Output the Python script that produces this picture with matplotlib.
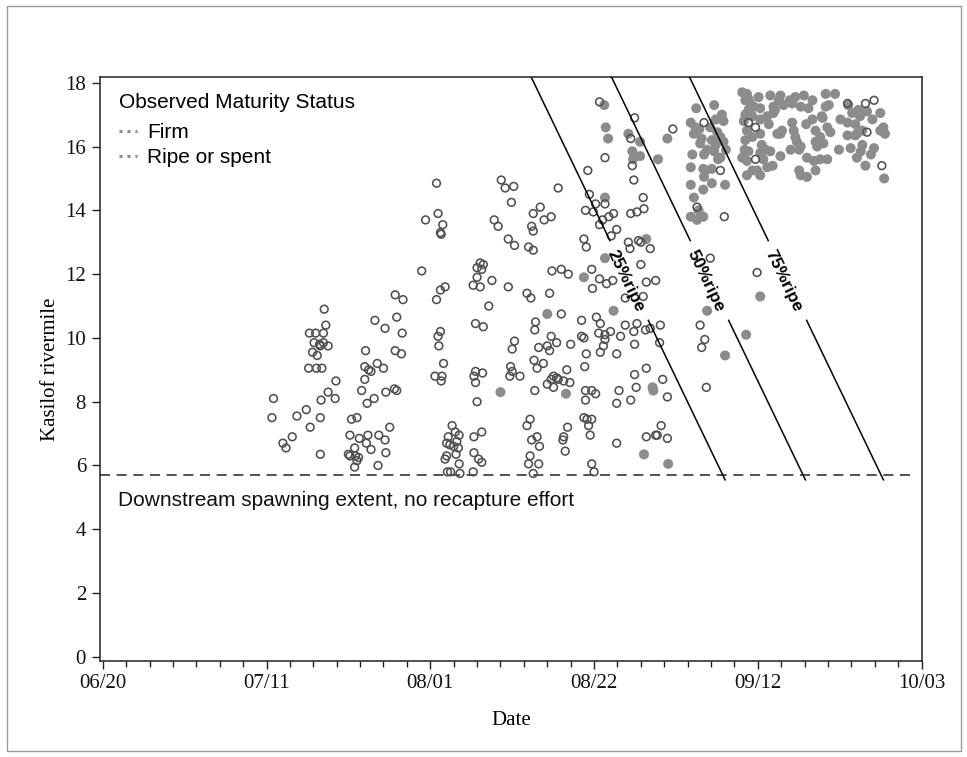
import matplotlib
matplotlib.use("Agg")
import matplotlib.pyplot as plt
from matplotlib.lines import Line2D
from matplotlib.patches import Rectangle
from matplotlib.ticker import FixedLocator, MultipleLocator
import numpy as np

# ---------------- data (x = days after 06/20, y = Kasilof rivermile) -------------
x_tick_days = [0, 21, 42, 63, 84, 105]
x_tick_labels = ["06/20", "07/11", "08/01", "08/22", "09/12", "10/03"]
y_tick_values = [0, 2, 4, 6, 8, 10, 12, 14, 16, 18]

firm_points = [
    (21.9, 8.1), (21.7, 7.5), (23.1, 6.7), (23.5, 6.55), (24.3, 6.9), (24.9, 7.55),
    (26.1, 7.75), (26.6, 7.2), (27.9, 7.5), (27.9, 6.35), (28.0, 8.05), (28.9, 8.3),
    (29.8, 8.1), (29.9, 8.65), (26.5, 10.15), (27.3, 10.15), (28.3, 10.15), (28.6, 10.4),
    (28.4, 10.9), (27.8, 9.8), (27.9, 9.75), (28.3, 9.85), (28.9, 9.75), (26.9, 9.55),
    (27.5, 9.45), (27.1, 9.85), (26.4, 9.05), (27.4, 9.05), (28.1, 9.05),
    (31.7, 6.95), (32.9, 6.85), (34.0, 6.95), (33.8, 6.7), (34.4, 6.5), (31.9, 7.45),
    (32.6, 7.5), (31.5, 6.35), (31.7, 6.3), (32.3, 6.55), (32.4, 6.3), (32.8, 6.25),
    (32.6, 6.15), (32.3, 5.95), (35.3, 6.0), (35.4, 6.95), (36.2, 6.8), (36.8, 7.2),
    (36.3, 6.4), (33.2, 8.35), (33.9, 7.95), (34.8, 8.1), (36.3, 8.3), (37.4, 8.4),
    (37.7, 8.35), (33.6, 8.7), (33.7, 9.6), (33.6, 9.1), (34.1, 9.0), (34.4, 8.95),
    (35.2, 9.2), (36.0, 9.05), (34.9, 10.55), (36.2, 10.3), (38.4, 10.15), (37.5, 9.6),
    (38.3, 9.5), (37.5, 11.35), (38.5, 11.2), (37.7, 10.65),
    (43.3, 10.2), (43.0, 10.05), (43.1, 9.75), (43.7, 9.2), (42.6, 8.8), (43.5, 8.8),
    (43.4, 8.65), (44.8, 7.25), (45.2, 7.05), (45.7, 6.95), (44.3, 6.9), (44.1, 6.7),
    (44.5, 6.65), (45.4, 6.75), (45.6, 6.55), (45.0, 6.6), (45.3, 6.35), (44.1, 6.3),
    (43.9, 6.2), (45.7, 6.05), (44.2, 5.8), (44.6, 5.8), (45.8, 5.75),
    (42.8, 14.85), (43.0, 13.9), (41.4, 13.7), (43.6, 13.55), (43.3, 13.3), (43.4, 13.25),
    (40.9, 12.1), (43.9, 11.6), (43.3, 11.5), (42.8, 11.2),
    (51.1, 14.95), (51.6, 14.7), (52.7, 14.75), (52.4, 14.25), (58.4, 14.7), (56.1, 14.1),
    (55.2, 13.9), (56.6, 13.7), (57.5, 13.8), (50.2, 13.7), (50.7, 13.5), (55.0, 13.5),
    (55.2, 13.35), (52.0, 13.1), (52.8, 12.9), (54.6, 12.85), (55.2, 12.75), (48.4, 12.35),
    (48.8, 12.3), (48.0, 12.2), (48.6, 12.15), (48.0, 11.9), (49.9, 11.8), (47.5, 11.65),
    (48.4, 11.6), (52.0, 11.6), (49.5, 11.0), (54.4, 11.4), (54.9, 11.25), (57.3, 11.4),
    (57.6, 12.1), (58.8, 12.15), (59.7, 12.0), (62.7, 12.15), (62.8, 11.55), (58.8, 10.75),
    (63.3, 10.65), (61.7, 13.1), (62.0, 12.85), (62.2, 15.25), (62.4, 14.5), (63.2, 14.2),
    (64.4, 14.2), (61.9, 14.0), (62.9, 13.95), (63.7, 13.55), (64.1, 13.7), (64.9, 13.8),
    (65.5, 13.9), (65.2, 13.2), (65.9, 13.4), (63.7, 11.85), (64.6, 11.7), (65.4, 11.8),
    (67.4, 13.0), (67.6, 12.8), (68.7, 13.05), (69.0, 13.0), (70.2, 12.8), (68.1, 14.95),
    (69.3, 14.4), (69.4, 14.05), (68.5, 13.95), (67.7, 13.9), (69.0, 12.3), (69.7, 11.75),
    (69.3, 11.3), (70.9, 11.8), (67.0, 11.25),
    (47.8, 10.45), (48.8, 10.35), (47.8, 8.95), (48.7, 8.9), (47.6, 8.8), (47.8, 8.6),
    (48.0, 8.0), (47.6, 6.9), (48.6, 7.05), (47.6, 6.4), (48.2, 6.2), (48.6, 6.1),
    (47.5, 5.8), (52.5, 9.65), (52.8, 9.9), (52.3, 9.1), (52.5, 8.95), (52.2, 8.8),
    (55.5, 10.5), (55.4, 10.25), (57.5, 10.05), (58.2, 9.85), (57.0, 9.75), (55.9, 9.7),
    (57.3, 9.6), (55.3, 9.3), (55.7, 9.05), (56.5, 9.2), (57.8, 8.8), (58.2, 8.75),
    (58.4, 8.7), (57.5, 8.7), (59.1, 8.65), (59.9, 8.6), (57.0, 8.55), (57.8, 8.45),
    (53.5, 8.8), (59.5, 9.0), (55.4, 8.35), (60.0, 9.8), (61.4, 10.05), (61.7, 10.0),
    (62.0, 9.5), (61.8, 9.1), (61.9, 8.35), (62.7, 8.35), (63.2, 8.25), (61.9, 8.05),
    (63.6, 10.15), (63.8, 10.45), (64.4, 10.1), (65.1, 10.2), (64.2, 9.75), (63.8, 9.55),
    (64.4, 9.95), (61.4, 10.55), (65.9, 9.5), (66.4, 10.05), (67.0, 10.4), (68.1, 10.2),
    (68.5, 10.45), (68.2, 9.8), (69.6, 10.25), (70.2, 10.3), (71.5, 10.4), (71.4, 9.85),
    (68.2, 8.85), (69.7, 9.05), (71.8, 8.7), (68.4, 8.45), (72.4, 8.15), (66.2, 8.35),
    (65.9, 7.95), (67.7, 8.05), (54.8, 7.45), (54.4, 7.25), (55.7, 6.9), (55.0, 6.8),
    (56.0, 6.6), (54.8, 6.3), (54.6, 6.05), (55.9, 6.05), (55.2, 5.75), (59.6, 7.2),
    (59.1, 6.9), (59.0, 6.8), (59.3, 6.45), (61.7, 7.5), (62.1, 7.45), (62.7, 7.45),
    (62.3, 7.25), (62.5, 6.95), (62.7, 6.05), (63.0, 5.8), (65.9, 6.7), (69.7, 6.9),
    (70.9, 6.95), (71.1, 6.95), (71.6, 7.25), (72.4, 6.85),
    (63.7, 17.4), (68.2, 16.9), (67.7, 16.25), (67.9, 15.4), (64.4, 15.65), (73.1, 16.55),
    (76.2, 14.1), (79.7, 13.8), (77.9, 12.5), (83.9, 12.05),
    (76.6, 10.4), (77.2, 9.95), (76.8, 9.7), (77.4, 8.45),
    (77.1, 16.75), (79.2, 15.25), (82.8, 16.75), (83.7, 16.6), (83.7, 15.6), (95.5, 17.35),
    (97.8, 17.35), (98.9, 17.45), (98.0, 16.45), (99.9, 15.4),
]

ripe_points = [
    (61.7, 11.9), (57.0, 10.75), (64.4, 14.4), (64.4, 12.5), (69.7, 13.1), (65.5, 10.85),
    (51.0, 8.3), (59.4, 8.25), (70.5, 8.45), (70.6, 8.35), (69.4, 6.35), (72.5, 6.05),
    (64.3, 17.3), (64.5, 16.6), (64.8, 16.25), (67.4, 16.4), (68.9, 16.15), (67.9, 15.85),
    (68.9, 15.7), (68.0, 15.6), (71.2, 15.6), (72.4, 16.25),
    (75.8, 14.4), (75.4, 13.8), (76.4, 14.0), (76.2, 13.7), (77.0, 13.8),
    (84.3, 11.3), (77.5, 10.85), (79.8, 9.45), (82.5, 10.1),
    (76.1, 17.2), (78.4, 17.3), (75.4, 16.75), (76.0, 16.6), (76.5, 16.55), (75.8, 16.4),
    (77.9, 16.6), (78.6, 16.85), (79.4, 17.0), (79.6, 16.8), (78.8, 16.45), (79.2, 16.3),
    (79.6, 16.15), (78.1, 16.2), (76.8, 16.25), (76.6, 16.1), (78.6, 16.05), (77.5, 15.9),
    (75.6, 15.75), (77.1, 15.75), (78.4, 15.85), (75.4, 15.35), (77.0, 15.3), (78.1, 15.3),
    (77.1, 15.05), (79.8, 14.8), (79.2, 15.65),
    (77.3, 15.25), (78.9, 15.6), (79.9, 15.9), (78.1, 14.85), (77.0, 14.65), (75.4, 14.8),
    (82.6, 17.65), (82.8, 17.5), (83.1, 17.35), (84.1, 17.55), (83.5, 17.25), (84.3, 17.2),
    (82.4, 17.0), (82.2, 16.8), (83.3, 16.95), (84.3, 16.85), (85.2, 16.95), (86.0, 17.05),
    (86.7, 17.45), (86.9, 17.6), (86.0, 17.25), (87.3, 17.3), (85.4, 16.7), (84.3, 16.4),
    (82.6, 16.5), (83.3, 16.3), (86.5, 16.4), (86.9, 16.4), (84.5, 16.05), (82.8, 15.85),
    (82.0, 15.65), (82.6, 15.55), (84.7, 15.6), (84.3, 15.8), (85.6, 15.85), (86.9, 15.7),
    (85.2, 15.35), (83.9, 15.25), (82.6, 15.1),
    (82.0, 17.7), (82.4, 17.45), (82.8, 17.15), (82.4, 16.2), (82.3, 15.9), (83.3, 15.25),
    (85.6, 17.6), (86.2, 17.15), (87.1, 16.5), (88.1, 17.45), (85.0, 15.9), (85.9, 15.4),
    (84.3, 15.1), (89.5, 15.1),
    (88.4, 16.75), (88.6, 16.5), (88.8, 16.3), (89.0, 16.15), (88.2, 15.9), (89.3, 15.9),
    (89.5, 16.0), (88.8, 17.55), (88.4, 17.35), (89.5, 17.25), (90.5, 17.2), (90.3, 15.65),
    (91.2, 15.55), (92.0, 15.6), (92.9, 15.6), (89.3, 15.25), (90.3, 15.05), (91.4, 15.25),
    (91.0, 16.85), (92.2, 16.95), (92.7, 17.25), (92.7, 17.65), (91.4, 16.5), (92.9, 16.6),
    (93.3, 16.45), (92.0, 16.3), (91.4, 16.15), (92.4, 16.1), (91.6, 16.0), (93.9, 17.65),
    (89.9, 17.6), (91.0, 17.45), (90.2, 16.7), (92.3, 16.9), (93.1, 17.3), (94.4, 15.9),
    (94.6, 16.85), (95.6, 17.3),
    (96.1, 17.05), (96.9, 17.15), (97.1, 16.95), (95.5, 16.75), (96.5, 16.7), (98.0, 17.1),
    (98.7, 16.85), (99.7, 17.05), (100.1, 16.6), (100.3, 16.4), (95.5, 16.35), (96.7, 16.4),
    (97.4, 16.5), (95.9, 15.95), (97.4, 16.05), (97.2, 15.85), (98.9, 15.95), (96.7, 15.65),
    (97.8, 15.4), (100.2, 15.0), (96.5, 16.35), (98.5, 15.75), (99.7, 16.5),
]

# maturity lines: day where each line reaches the low / high rivermile
ripe_line_labels = ["25%ripe", "50%ripe", "75%ripe"]
ripe_line_day_low = [79.8, 90.1, 100.1]
ripe_line_day_high = [54.7, 65.0, 75.0]
ripe_line_mile_low = 5.55
ripe_line_mile_high = 18.3
ripe_label_mile = 11.8
ripe_gap_miles = (10.55, 13.05)

downstream_mile = 5.7
downstream_day_range = (-0.3, 103.6)
downstream_text = "Downstream spawning extent, no recapture effort"

# ---------------- figure -------------------------------------------------------
W, H = 967, 757
fig = plt.figure(figsize=(W / 100, H / 100), dpi=100)
ax = fig.add_axes([100 / W, 1 - 661 / H, 822 / W, 584 / H])

serif = "Liberation Serif"
sans = "Liberation Sans"

firm_d, firm_m = zip(*firm_points)
ripe_d, ripe_m = zip(*ripe_points)

ax.scatter(ripe_d, ripe_m, s=52, c="#8c8c8c", edgecolors="none", zorder=2)
ax.scatter(firm_d, firm_m, s=31, facecolors="none", edgecolors="#505050",
           linewidths=1.15, zorder=3)

def day_at(mile, d_low, d_high):
    return d_low + (d_high - d_low) * (mile - ripe_line_mile_low) / (ripe_line_mile_high - ripe_line_mile_low)

for lab, dl, dh in zip(ripe_line_labels, ripe_line_day_low, ripe_line_day_high):
    g0, g1 = ripe_gap_miles
    ax.plot([day_at(ripe_line_mile_high, dl, dh), day_at(g1, dl, dh)],
            [ripe_line_mile_high, g1], color="black", lw=1.1, zorder=4)
    ax.plot([day_at(g0, dl, dh), day_at(ripe_line_mile_low, dl, dh)],
            [g0, ripe_line_mile_low], color="black", lw=1.1, zorder=4)
    ang = np.degrees(np.arctan2(ripe_line_mile_low - ripe_line_mile_high, dl - dh))
    ax.text(day_at(ripe_label_mile, dl, dh) - 0.5, ripe_label_mile, lab, rotation=ang,
            transform_rotates_text=True, rotation_mode="anchor",
            ha="center", va="center", fontsize=12.5, fontweight="bold",
            family=sans, color="black", zorder=5)

ax.plot(list(downstream_day_range), [downstream_mile, downstream_mile],
        color="#333333", lw=1.2, dashes=(6, 4), zorder=1)
ax.text(1.9, 4.9, downstream_text, fontsize=15, family=sans, ha="left",
        va="center", color="#111111")

ax.set_xlim(-0.35, 105.05)
ax.set_ylim(-0.13, 18.18)
ax.xaxis.set_major_locator(FixedLocator(x_tick_days))
ax.set_xticklabels(x_tick_labels, family=serif, fontsize=15)
ax.xaxis.set_minor_locator(MultipleLocator(3))
ax.set_yticks(y_tick_values)
ax.set_yticklabels([str(v) for v in y_tick_values], family=serif, fontsize=15)
ax.tick_params(axis="both", which="major", direction="out", length=6, width=1,
               color="#222222", labelcolor="#111111")
ax.tick_params(axis="x", which="major", pad=3)
ax.tick_params(axis="y", which="major", pad=4)
ax.tick_params(axis="x", which="minor", direction="out", length=4, width=1, color="#222222")
for sp in ax.spines.values():
    sp.set_color("#222222")
    sp.set_linewidth(1.1)

ax.set_xlabel("Date", family=serif, fontsize=15, labelpad=13)
ax.set_ylabel("Kasilof rivermile", family=serif, fontsize=15, labelpad=4)

handles = [Line2D([], [], color="#8c8c8c", lw=2.2, ls=(0, (1, 1.6))),
           Line2D([], [], color="#8c8c8c", lw=2.2, ls=(0, (1, 1.6)))]
leg = ax.legend(handles, ["Firm", "Ripe or spent"], title="Observed Maturity Status",
                loc="upper left", bbox_to_anchor=(0.005, 0.998), frameon=False,
                prop={"family": sans, "size": 15},
                title_fontproperties={"family": sans, "size": 15},
                alignment="left", handlelength=0.9, handletextpad=0.45,
                labelspacing=0.3, borderaxespad=0.3)
# a little more room between the legend title and its entries
leg._legend_box.sep = 8.0

fig.patches.append(Rectangle((7 / W, 6 / H), (961 - 7) / W, (751 - 6) / H,
                             transform=fig.transFigure, fill=False,
                             edgecolor="#9a9a9a", lw=1))

fig.savefig("out.png", dpi=100)
